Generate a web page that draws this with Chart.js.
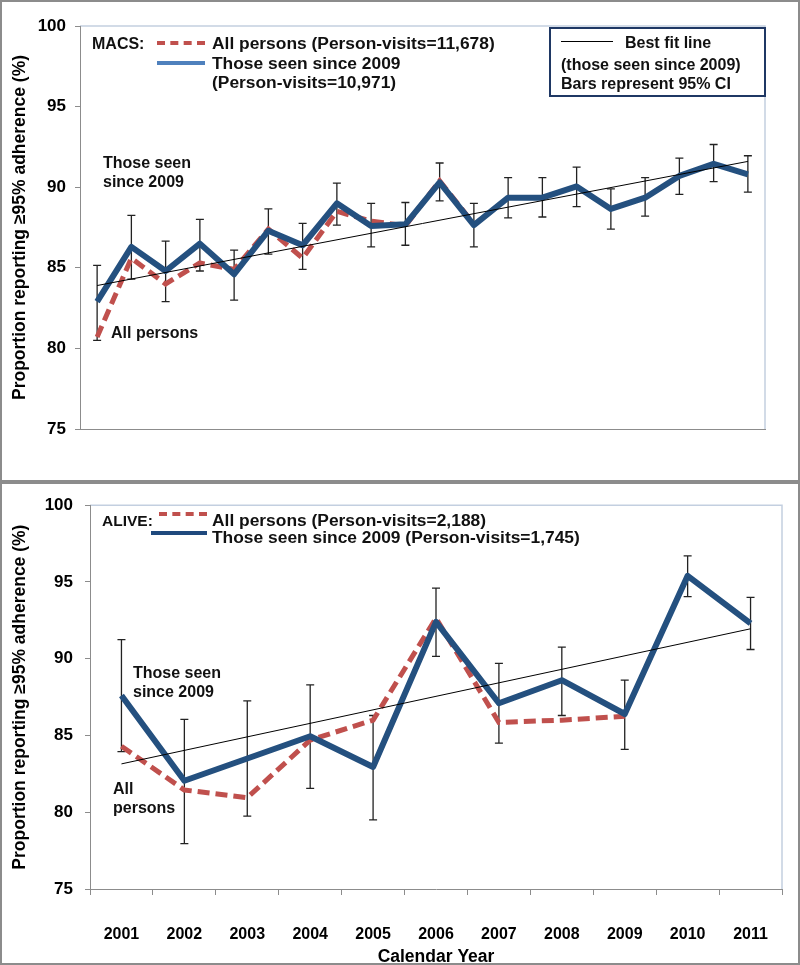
<!DOCTYPE html>
<html>
<head>
<meta charset="utf-8">
<script src="https://cdn.jsdelivr.net/npm/chart.js@4.4.1/dist/chart.umd.min.js"></script>
<style>
    body { margin: 0; background: #fff; font-family: "Liberation Sans", Arial, sans-serif; }
    .panel { position: absolute; left: 0; width: 800px; box-sizing: border-box; border: 2px solid #8c8c8c; }
    canvas { position: absolute; left: 0; }
    .txt { position: absolute; font-weight: bold; font-size: 16px; line-height: 19px; color: #111; white-space: nowrap; }
    .lg { font-size: 17.4px; line-height: 20px; }
    .ln { position: absolute; height: 0; }
</style>
</head>
<body>
<div class="panel" style="top:0;height:482px"></div>
<div class="panel" style="top:482px;height:483px"></div>
<canvas id="macsChart" width="800" height="482" style="top:0"></canvas>
<canvas id="aliveChart" width="800" height="482" style="top:483px"></canvas>

<!-- MACS legend -->
<div class="txt" style="left:92px;top:34px">MACS:</div>
<div class="ln" style="left:157px;top:41px;width:48px;border-top:4px dashed #c0504d"></div>
<div class="txt lg" style="left:212px;top:33px">All persons (Person-visits=11,678)</div>
<div class="ln" style="left:157px;top:61px;width:48px;border-top:4px solid #4f81bd"></div>
<div class="txt lg" style="left:212px;top:53px">Those seen since 2009</div>
<div class="txt lg" style="left:212px;top:72px">(Person-visits=10,971)</div>
<div style="position:absolute;left:549px;top:27px;width:217px;height:70px;box-sizing:border-box;border:2px solid #1f3864"></div>
<div class="ln" style="left:561px;top:41px;width:52px;border-top:1px solid #000"></div>
<div class="txt" style="left:625px;top:33px">Best fit line</div>
<div class="txt" style="left:561px;top:55px">(those seen since 2009)</div>
<div class="txt" style="left:561px;top:74px">Bars represent 95% CI</div>
<div class="txt" style="left:103px;top:153px">Those seen<br>since 2009</div>
<div class="txt" style="left:111px;top:323px">All persons</div>

<!-- ALIVE legend -->
<div class="txt" style="left:102px;top:511px;font-size:15.5px">ALIVE:</div>
<div class="ln" style="left:159px;top:512px;width:48px;border-top:4px dashed #c0504d"></div>
<div class="txt lg" style="left:212px;top:510px">All persons (Person-visits=2,188)</div>
<div class="ln" style="left:151px;top:531px;width:56px;border-top:4px solid #1f497d"></div>
<div class="txt lg" style="left:212px;top:527px">Those seen since 2009 (Person-visits=1,745)</div>
<div class="txt" style="left:133px;top:663px">Those seen<br>since 2009</div>
<div class="txt" style="left:113px;top:779px">All<br>persons</div>

<script>
// MACS (top panel): 20 half-year periods, tick labels not shown in the figure
const macsPeriods = ['2001-1', '2001-2', '2002-1', '2002-2', '2003-1', '2003-2', '2004-1', '2004-2', '2005-1', '2005-2',
    '2006-1', '2006-2', '2007-1', '2007-2', '2008-1', '2008-2', '2009-1', '2009-2', '2010-1', '2010-2'];
const macsAll = [80.7, 85.6, 84.0, 85.3, 84.9, 87.4, 85.6, 88.5, 87.9, 87.6, 90.4, 87.7,
    null, null, null, null, null, null, null, null];
const macsSeen = [82.9, 86.3, 84.8, 86.5, 84.6, 87.3, 86.4, 89.0, 87.6, 87.7, 90.3, 87.65,
    89.35, 89.35, 90.05, 88.65, 89.35, 90.7, 91.45, 90.8];
const macsLow = [80.5, 84.3, 82.9, 84.8, 83.0, 85.85, 84.9, 87.65, 86.3, 86.4, 89.15, 86.3,
    88.1, 88.15, 88.8, 87.4, 88.2, 89.55, 90.35, 89.7];
const macsHigh = [85.15, 88.25, 86.65, 88.0, 86.1, 88.65, 87.75, 90.25, 89.0, 89.05, 91.5, 89.0,
    90.6, 90.6, 91.25, 89.9, 90.6, 91.8, 92.65, 91.95];
const macsFit = [83.9, null, null, null, null, null, null, null, null, null,
    null, null, null, null, null, null, null, null, null, 91.6];

// ALIVE (bottom panel)
const years = ['2001', '2002', '2003', '2004', '2005', '2006', '2007', '2008', '2009', '2010', '2011'];
const aliveAll = [84.3, 81.45, 80.95, 84.7, 86.0, 92.65, 85.85, 86.0, 86.25, null, null];
const aliveSeen = [87.6, 82.05, 83.5, 84.95, 82.95, 92.4, 87.1, 88.6, 86.4, 95.4, 92.3];
const aliveLow = [83.95, 77.95, 79.75, 81.55, 79.5, 90.15, 84.5, 86.3, 84.1, 94.05, 90.6];
const aliveHigh = [91.25, 86.05, 87.25, 88.3, 86.3, 94.6, 89.7, 90.75, 88.6, 96.7, 94.0];
const aliveFit = [83.15, null, null, null, null, null, null, null, null, null, 91.95];

const yTitle = 'Proportion reporting \u226595% adherence (%)';
const FONT = '"Liberation Sans", Arial, sans-serif';

// Error bars drawn under the lines, using the chart scales
const errorBars = {
    id: 'errorBars',
    beforeDatasetsDraw(chart, args, opts) {
        const { ctx, scales: { x, y } } = chart;
        ctx.save();
        ctx.strokeStyle = '#222';
        ctx.lineWidth = 1.3;
        opts.low.forEach((lo, i) => {
            const px = x.getPixelForValue(i);
            const yl = y.getPixelForValue(lo);
            const yh = y.getPixelForValue(opts.high[i]);
            ctx.beginPath();
            ctx.moveTo(px, yl); ctx.lineTo(px, yh);
            ctx.moveTo(px - 4, yl); ctx.lineTo(px + 4, yl);
            ctx.moveTo(px - 4, yh); ctx.lineTo(px + 4, yh);
            ctx.stroke();
        });
        ctx.restore();
    }
};

// Light frame on top and right of the plot area
const plotFrame = {
    id: 'plotFrame',
    beforeDraw(chart) {
        const { ctx, chartArea: a } = chart;
        ctx.save();
        ctx.strokeStyle = '#c3cfe0';
        ctx.lineWidth = 1.5;
        ctx.beginPath();
        ctx.moveTo(a.left, a.top); ctx.lineTo(a.right, a.top); ctx.lineTo(a.right, a.bottom);
        ctx.stroke();
        ctx.restore();
    }
};

const makeChart = (id, cfg) => new Chart(document.getElementById(id).getContext('2d'), {
    type: 'line',
    plugins: [errorBars, plotFrame],
    data: {
        labels: cfg.labels,
        datasets: [
            { label: 'Those seen since 2009', data: cfg.seen, borderColor: cfg.blue, borderWidth: 6,
              borderJoinStyle: 'round', pointRadius: 0, order: 1 },
            { label: 'All persons', data: cfg.all, borderColor: '#c0504d', borderWidth: 5,
              borderDash: [12, 6], pointRadius: 0, order: 2 },
            { label: 'Best fit line', data: cfg.fit, borderColor: '#000', borderWidth: 1,
              spanGaps: true, pointRadius: 0, order: 0 }
        ]
    },
    options: {
        responsive: false,
        animation: false,
        layout: { padding: cfg.padding },
        plugins: {
            legend: { display: false },
            tooltip: { enabled: false },
            errorBars: { low: cfg.low, high: cfg.high }
        },
        scales: {
            x: {
                type: 'category',
                offset: true,
                afterFit: s => { s.height = cfg.xHeight; },
                border: { display: true, color: '#8c8c8c', width: 1 },
                grid: { display: cfg.showX, offset: true, drawOnChartArea: false, tickLength: 6, color: '#8c8c8c' },
                ticks: { display: cfg.showX, color: '#000', padding: 30, maxRotation: 0,
                    font: { family: FONT, size: 16, weight: 'bold' } },
                title: { display: cfg.showX, text: 'Calendar Year', color: '#000', padding: { top: 0, bottom: -3 },
                    font: { family: FONT, size: 17.5, weight: 'bold' } }
            },
            y: {
                min: 75,
                max: 100,
                afterFit: s => { s.width = cfg.yWidth; },
                border: { display: true, color: '#8c8c8c', width: 1 },
                grid: { drawOnChartArea: false, tickLength: 5, color: '#8c8c8c' },
                ticks: { stepSize: 5, color: '#000', padding: cfg.yPad,
                    font: { family: FONT, size: 17, weight: 'bold' } },
                title: { display: true, text: yTitle, color: '#000', padding: { top: 10, bottom: 0 },
                    font: { family: FONT, size: 17.5, weight: 'bold' } }
            }
        }
    }
});

makeChart('macsChart', {
    labels: macsPeriods, all: macsAll, seen: macsSeen, fit: macsFit, low: macsLow, high: macsHigh,
    blue: '#24507f', showX: false, padding: { left: 0, top: 26, right: 35, bottom: 0 },
    xHeight: 53, yWidth: 80, yPad: 9
});

makeChart('aliveChart', {
    labels: years, all: aliveAll, seen: aliveSeen, fit: aliveFit, low: aliveLow, high: aliveHigh,
    blue: '#24507f', showX: true, padding: { left: 0, top: 16, right: 18, bottom: 0 },
    xHeight: 76, yWidth: 90, yPad: 12
});
</script>
</body>
</html>
